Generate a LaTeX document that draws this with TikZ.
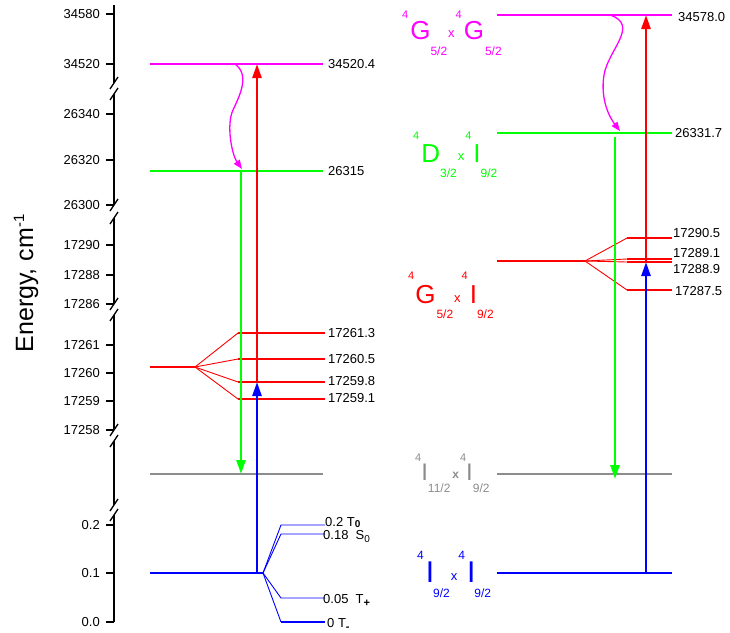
\documentclass[tikz,border=0pt]{standalone}
\usepackage{fontspec}
\setmainfont{Liberation Sans}
\usetikzlibrary{arrows.meta}
\definecolor{cmag}{RGB}{255,0,255}
\definecolor{cgrn}{RGB}{0,255,0}
\definecolor{cred}{RGB}{255,0,0}
\definecolor{cblu}{RGB}{0,0,255}
\definecolor{cgry}{RGB}{140,140,140}
\newcommand{\fs}[1]{\fontsize{#1}{#1}\selectfont}
\begin{document}
\begin{tikzpicture}[x=1pt,y=-1pt,
  lvl/.style={line width=2pt},
  thinl/.style={line width=0.9pt},
  arr/.style={line width=2.6pt,-{Triangle[length=14pt,width=9pt]}},
  wav/.style={line width=1.3pt,-{Triangle[length=9pt,width=7pt]}},
  num/.style={anchor=west,inner sep=0pt,font=\fs{13}},
  tk/.style={anchor=east,inner sep=0pt,font=\fs{13}},
  tl/.style={anchor=base west,inner sep=0pt,font=\fs{13}},
  term/.style={anchor=base west,inner sep=0pt},
  axisline/.style={line width=1.5pt},
  brk/.style={line width=1.3pt},
]
\useasboundingbox (0,0) rectangle (730,632);

% ---------- axis ----------
\foreach \a/\b in {5/83,94/205,218/304,315/430,441/505,515/622}
  \draw[axisline] (114,\a) -- (114,\b);
\foreach \y in {83,94,205,218,304,315,430,441,505,515}
  \draw[brk] (110,\y+6) -- (118,\y-6);
\foreach \y/\t [count=\i] in {14/34580,64/34520,114/26340,160/26320,205/26300,245/17290,275/17288,304/17286,345/17261,373/17260,401/17259,430/17258,525/0.2,573/0.1,622/0.0}
  {\draw[axisline] (106,\y) -- (114,\y);
   \node[tk] (tick\i) at (100,\y) {\t};}
\node[rotate=90,anchor=base,inner sep=0pt,font=\fs{25}] (ylab) at (33,283.5) {Energy, cm\raisebox{9pt}{\fs{15}-1}};

% ---------- left levels ----------
\draw[lvl,cmag] (150,64) -- (323,64);
\draw[lvl,cgrn] (150,171) -- (323,171);
\draw[lvl,cgry] (150,474) -- (323,474);
\coordinate (Lrf) at (195,367);
\draw[lvl,cred] (150,367) -- (Lrf);
\foreach \y in {333,359,382,399}
  {\draw[thinl,cred] (Lrf) -- (238,\y);
   \draw[lvl,cred] (238,\y) -- (325,\y);}
\coordinate (Lbf) at (263,573);
\draw[lvl,cblu] (150,573) -- (Lbf);
\foreach \y in {525,534,598}
  {\draw[thinl,cblu] (Lbf) -- (281,\y) -- (325,\y);}
\draw[thinl,cblu] (Lbf) -- (281,622);
\draw[line width=2.6pt,cblu] (281,622) -- (325,622);

\node[num] (l1) at (328,64) {34520.4};
\node[num] (l2) at (328,171) {26315};
\node[num] (l3) at (328,333) {17261.3};
\node[num] (l4) at (328,359) {17260.5};
\node[num] (l5) at (328,381) {17259.8};
\node[num] (l6) at (328,398) {17259.1};
\node[tl] (b1) at (325,526.5) {0.2 T\raisebox{-0.5pt}{\fs{10}\bfseries 0}};
\node[tl] (b2) at (323,539) {0.18\ \ S\raisebox{-3pt}{\fs{10}0}};
\node[tl] (b3) at (323,603) {0.05\ \ T\raisebox{-3pt}{\fs{11}\bfseries +}};
\node[tl] (b4) at (327,627) {0 T\raisebox{-3pt}{\fs{11}\bfseries -}};

% ---------- left arrows ----------
\coordinate (LgTop) at (241,171);
\coordinate (LgBot) at (241,474);
\coordinate (LrBot) at (257,382);
\coordinate (LrTop) at (257,64);
\coordinate (LbBot) at (257,573);
\coordinate (Lw0) at (235,64);
\coordinate (Lwm) at (233,110);
\coordinate (Lw1) at (242,169);
\draw[arr,cgrn] (LgTop) -- (LgBot);
\draw[arr,cblu] (LbBot) -- (LrBot);
\draw[arr,cred] (LrBot) -- (LrTop);
\draw[wav,cmag] (Lw0) .. controls (250,75) and (240,95) .. (Lwm)
   .. controls (226,125) and (232,155) .. (Lw1);

% ---------- right levels ----------
\draw[lvl,cmag] (497,15) -- (672,15);
\draw[lvl,cgrn] (497,133) -- (672,133);
\draw[lvl,cgry] (497,474) -- (672,474);
\draw[lvl,cblu] (497,573) -- (672,573);
\coordinate (Rrf) at (585,261);
\draw[lvl,cred] (497,261) -- (Rrf);
\foreach \y/\w in {238/2pt,259/1.4pt,262/1.4pt,290/2pt}
  {\draw[thinl,cred] (Rrf) -- (627,\y);
   \draw[line width=\w,cred] (627,\y) -- (672,\y);}

\node[num] (r1) at (678,17) {34578.0};
\node[num] (r2) at (675,133) {26331.7};
\node[num] (r3) at (673,233) {17290.5};
\node[num] (r4) at (673,253) {17289.1};
\node[num] (r5) at (673,269) {17288.9};
\node[num] (r6) at (675,291) {17287.5};

% ---------- right arrows ----------
\coordinate (RgTop) at (615,137);
\coordinate (RgBot) at (615,479);
\coordinate (RrBot) at (646,262);
\coordinate (RrTop) at (646,15);
\coordinate (RbBot) at (646,573);
\coordinate (Rw0) at (610,15);
\coordinate (Rwm) at (604,75);
\coordinate (Rw1) at (620,131);
\draw[arr,cgrn] (RgTop) -- (RgBot);
\draw[arr,cblu] (RbBot) -- (RrBot);
\draw[arr,cred] (RrBot) -- (RrTop);
\draw[wav,cmag] (Rw0) .. controls (640,25) and (608,50) .. (Rwm)
   .. controls (600,100) and (610,118) .. (Rw1);

% ---------- term labels ----------
\node[term,text=cmag,font=\fs{26}] (termG) at (402,39)
 {\raisebox{21pt}{\fs{11}4}\kern2pt G\raisebox{-16pt}{\fs{12}5/2}\kern1pt\raisebox{2pt}{\fs{13}x}\kern1pt\raisebox{21pt}{\fs{11}4}\kern2pt G\kern1pt\raisebox{-16pt}{\fs{12}5/2}};
\node[term,text=cgrn,font=\fs{26}] (termD) at (413,162)
 {\raisebox{23pt}{\fs{11}4}\kern2pt D\raisebox{-15pt}{\fs{12}3/2}\kern1pt\raisebox{2pt}{\fs{13}x}\kern1pt\raisebox{23pt}{\fs{11}4}\kern2pt I\raisebox{-15pt}{\fs{12}9/2}};
\node[term,text=cred,font=\fs{26}] (termGI) at (408,303)
 {\raisebox{24pt}{\fs{11}4}\kern1pt G\kern1pt\raisebox{-15pt}{\fs{12}5/2}\kern1pt\raisebox{1pt}{\fs{13}x}\kern1pt\raisebox{24pt}{\fs{11}4}\kern2pt I\raisebox{-15pt}{\fs{12}9/2}};
\node[term,text=cgry,font=\fs{24}] (termII) at (415,480)
 {\raisebox{19pt}{\fs{11}4}I\raisebox{-12pt}{\fs{12}11/2}\kern2pt\raisebox{2pt}{\fs{12}\bfseries x}\kern1pt\raisebox{19pt}{\fs{11}4}I\raisebox{-12pt}{\fs{12}9/2}};
\node[term,text=cblu,font=\fs{30}] (termI) at (417,582)
 {\raisebox{23pt}{\fs{12}4}\kern2pt I\kern-1pt\raisebox{-15pt}{\fs{12}9/2}\kern1pt\raisebox{2pt}{\fs{13}x}\kern1pt\raisebox{23pt}{\fs{12}4}\kern2pt I\kern-1pt\raisebox{-15pt}{\fs{12}9/2}};
\end{tikzpicture}
\end{document}
